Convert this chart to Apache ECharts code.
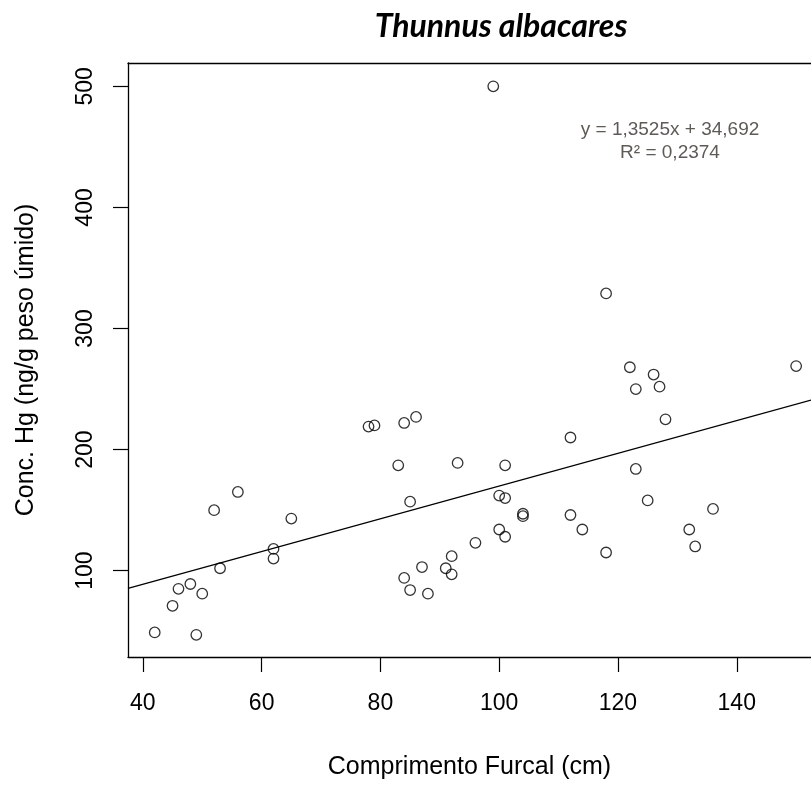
<!DOCTYPE html>
<html>
<head>
<meta charset="utf-8">
<script src="https://cdn.jsdelivr.net/npm/echarts@6/dist/echarts.min.js"></script>
<style>
  html, body { margin: 0; padding: 0; background: #fff; overflow: hidden; }
  #chart { width: 811px; height: 785px; }
</style>
</head>
<body>
<div id="chart"></div>
<script>
// comprimento furcal (cm)
const lengths = [42, 45, 46, 48, 49, 50, 52, 53, 56, 62, 62, 65, 78, 79, 83, 84, 86, 85, 84, 85,
  87, 88, 91, 92, 92, 93, 96, 99, 100, 101, 101, 100, 101, 104, 104, 112, 112, 114, 118, 118,
  122, 123, 123, 125, 126, 127, 128, 132, 133, 136, 150];
// conc. Hg (ng/g peso úmido)
const mercury = [49, 71, 85, 89, 47, 81, 150, 102, 165, 118, 110, 143, 219, 220, 187, 222, 227, 157, 94, 84,
  103, 81, 102, 112, 97, 189, 123, 500, 162, 187, 160, 134, 128, 147, 145, 210, 146, 134, 329, 115,
  268, 250, 184, 158, 262, 252, 225, 134, 120, 151, 269];

const xTicks = [40, 60, 80, 100, 120, 140];
const yTicks = [100, 200, 300, 400, 500];

// trend line from the equation printed on the chart
const slope = 1.3525;
const intercept = 34.692;

// the plot box is cut off on the right side of the picture
const xMin = 37.5, xMax = 152.5;
const yMin = 28.7, yMax = 519.3;

const points = lengths.map((x, i) => [x, mercury[i]]);
const trend = [xMin, xMax].map((x) => [x, slope * x + intercept]);

const chart = echarts.init(document.getElementById("chart"));

const tickFont = {
	fontFamily: "Liberation Sans",
	fontSize: 23,
	color: "#000",
};
const nameFont = { fontFamily: "Liberation Sans", fontSize: 25, color: "#000" };
const frame = { show: true, lineStyle: { color: "#000", width: 1.3 } };
const tick = (values) => ({
	show: true,
	length: 15,
	customValues: values,
	lineStyle: { color: "#000", width: 1.2 },
});

chart.setOption({
	animation: false,
	backgroundColor: "#fff",
	graphic: [
		{
			type: "text",
			x: 501,
			y: 27,
			style: {
				text: "Thunnus albacares",
				font: "italic bold 32px Lato",
				fill: "#000",
				align: "center",
				verticalAlign: "middle",
			},
		},
		{
			type: "text",
			x: 670,
			y: 130,
			style: {
				text: "y = 1,3525x + 34,692",
				font: "19px 'Liberation Sans'",
				fill: "#5e5a56",
				align: "center",
				verticalAlign: "middle",
			},
		},
		{
			type: "text",
			x: 670,
			y: 153,
			style: {
				text: "R² = 0,2374",
				font: "19px 'Liberation Sans'",
				fill: "#5e5a56",
				align: "center",
				verticalAlign: "middle",
			},
		},
	],
	grid: {
		left: 128,
		top: 63,
		width: 683,
		height: 601,
		containLabel: false,
	},
	xAxis: [
		{
			type: "value",
			min: xMin,
			max: xMax,
			name: "Comprimento Furcal (cm)",
			nameLocation: "middle",
			nameGap: 98,
			nameTextStyle: nameFont,
			axisLine: frame,
			splitLine: { show: false },
			axisTick: tick(xTicks),
			axisLabel: {
				...tickFont,
				margin: 35,
				customValues: xTicks,
			},
		},
		{
			type: "value",
			position: "top",
			min: xMin,
			max: xMax,
			axisLine: frame,
			axisTick: { show: false },
			axisLabel: { show: false },
			splitLine: { show: false },
		},
	],
	yAxis: {
		type: "value",
		min: yMin,
		max: yMax,
		name: "Conc. Hg (ng/g peso úmido)",
		nameLocation: "middle",
		nameGap: 89,
		nameRotate: 90,
		nameTextStyle: nameFont,
		axisLine: frame,
		splitLine: { show: false },
		axisTick: tick(yTicks),
		axisLabel: {
			...tickFont,
			rotate: 90,
			margin: 31,
			customValues: yTicks,
		},
	},
	series: [
		{
			type: "line",
			data: trend,
			showSymbol: false,
			silent: true,
			lineStyle: { color: "#000", width: 1.3 },
			z: 1,
		},
		{
			type: "scatter",
			data: points,
			symbol: "circle",
			symbolSize: 10.5,
			itemStyle: {
				color: "rgba(0,0,0,0)",
				borderColor: "#000",
				borderWidth: 1.3,
			},
			z: 2,
		},
	],
});
</script>
</body>
</html>
